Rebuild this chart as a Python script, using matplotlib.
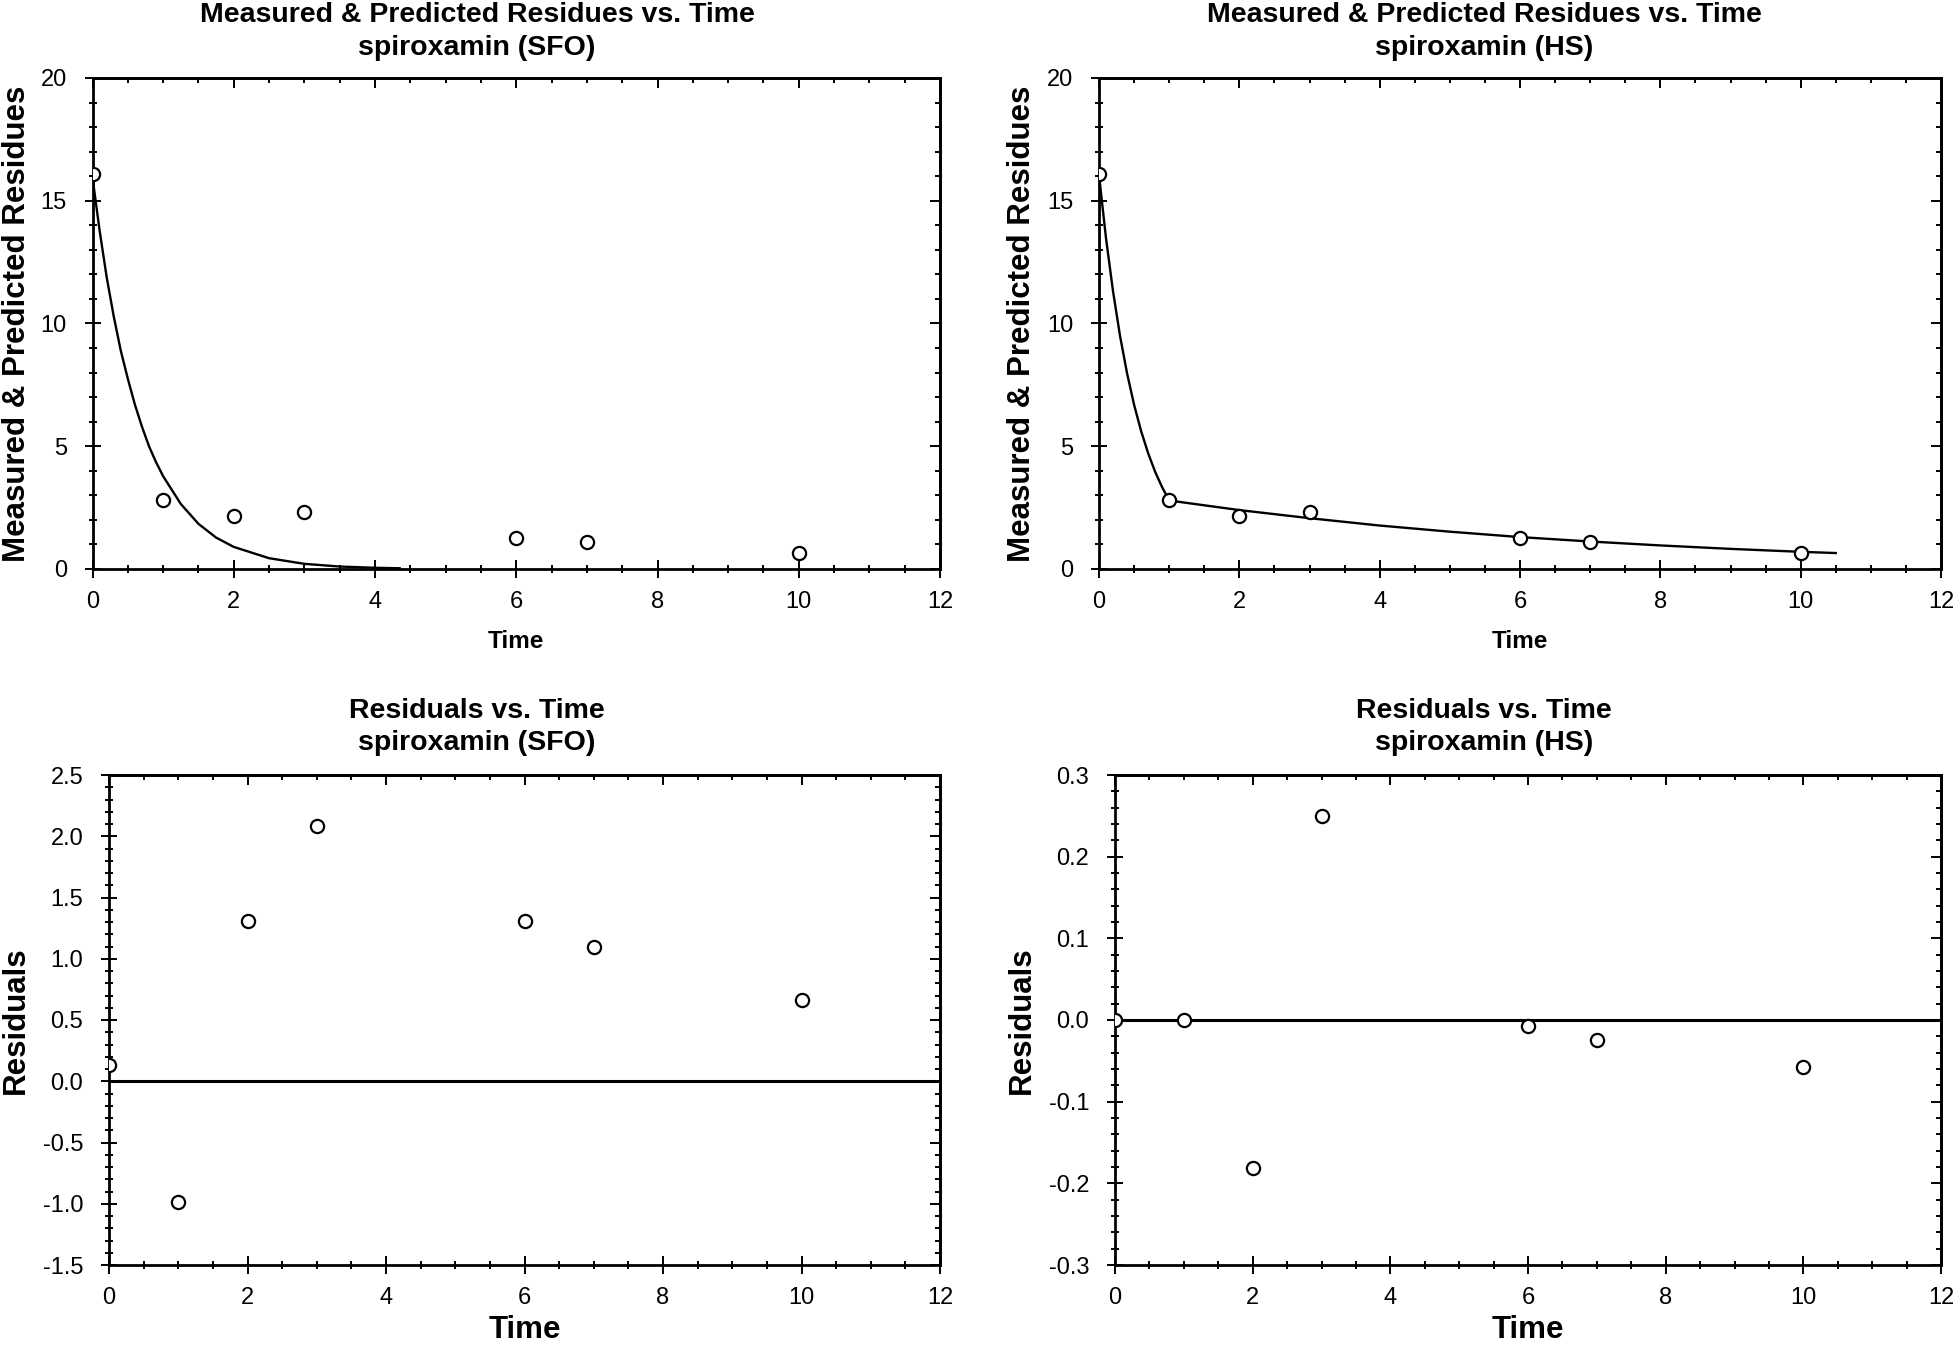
import matplotlib
matplotlib.use('Agg')
import matplotlib.pyplot as plt
from matplotlib.ticker import MultipleLocator, FormatStrFormatter

plt.rcParams['font.family'] = ['Liberation Sans', 'DejaVu Sans']
plt.rcParams['axes.unicode_minus'] = False

# measured residues
time = [0, 1, 2, 3, 6, 7, 10]
measured = [16.07, 2.80, 2.17, 2.32, 1.25, 1.10, 0.64]

# predicted curves
sfo_t = [0, 0.1, 0.2, 0.3, 0.4, 0.5, 0.6, 0.7, 0.8, 0.9, 1.0, 1.25, 1.5, 1.75, 2.0, 2.5, 3.0, 3.5, 4.0, 4.35]
sfo_fit = [15.95, 13.8, 11.9, 10.3, 8.9, 7.75, 6.7, 5.8, 5.0, 4.35, 3.78, 2.65, 1.84, 1.28, 0.9, 0.44, 0.21, 0.1, 0.05, 0.03]
hs_t = [0, 0.1, 0.2, 0.3, 0.4, 0.5, 0.6, 0.7, 0.8, 0.9, 1.0, 2, 3, 4, 5, 6, 7, 8, 9, 10, 10.5]
hs_fit = [16.05, 13.47, 11.31, 9.49, 7.97, 6.69, 5.62, 4.72, 3.96, 3.33, 2.79, 2.4, 2.07, 1.77, 1.52, 1.3, 1.12, 0.96, 0.82, 0.7, 0.65]

# residuals
sfo_res = [0.13, -0.985, 1.305, 2.08, 1.305, 1.10, 0.66]
hs_res = [0.0, 0.0, -0.181, 0.25, -0.007, -0.0245, -0.058]

W, H = 1960, 1348
fig = plt.figure(figsize=(W / 100, H / 100), dpi=100)


def box(l, r, t, b):
    return [l / W, 1 - b / H, (r - l) / W, (b - t) / H]


def style(ax, ymaj, ymin, fmt):
    ax.set_xlim(0, 12)
    ax.xaxis.set_major_locator(MultipleLocator(2))
    ax.xaxis.set_minor_locator(MultipleLocator(0.5))
    ax.yaxis.set_major_locator(MultipleLocator(ymaj))
    ax.yaxis.set_minor_locator(MultipleLocator(ymin))
    ax.yaxis.set_major_formatter(FormatStrFormatter(fmt))
    for s in ax.spines.values():
        s.set_linewidth(2)
    ax.tick_params(which='both', direction='inout', width=1.4, top=False, right=False, labelsize=17)
    ax.tick_params(axis='x', which='major', length=13, pad=9)
    ax.tick_params(axis='x', which='minor', length=6)
    ax.tick_params(axis='y', which='major', length=11, pad=13)
    ax.tick_params(axis='y', which='minor', length=6)
    # inward ticks on top and right
    top = ax.secondary_xaxis('top')
    top.xaxis.set_major_locator(MultipleLocator(2))
    top.xaxis.set_minor_locator(MultipleLocator(0.5))
    top.tick_params(which='both', direction='in', width=1.4, labeltop=False)
    top.tick_params(which='major', length=7)
    top.tick_params(which='minor', length=3.5)
    top.spines['top'].set_linewidth(2)
    right = ax.secondary_yaxis('right')
    right.yaxis.set_major_locator(MultipleLocator(ymaj))
    right.yaxis.set_minor_locator(MultipleLocator(ymin))
    right.tick_params(which='both', direction='in', width=1.4, labelright=False)
    right.tick_params(which='major', length=7)
    right.tick_params(which='minor', length=3.5)
    right.spines['right'].set_linewidth(2)


def titles(x, y1, y2, line1, line2):
    fig.text(x / W, 1 - y1 / H, line1, ha='center', va='baseline', fontsize=20.5, fontweight='bold')
    fig.text(x / W, 1 - y2 / H, line2, ha='center', va='baseline', fontsize=20.5, fontweight='bold')


pt = dict(ls='none', marker='o', ms=9.5, mfc='white', mec='black', mew=1.6, zorder=3)

# top row: measured & predicted
panels_top = [
    (box(92.5, 940, 78, 569), sfo_t, sfo_fit, 'spiroxamin (SFO)', 477, 17),
    (box(1099, 1941, 78, 569), hs_t, hs_fit, 'spiroxamin (HS)', 1484, 1022),
]
for pos, ft, fv, name, tx, lx in panels_top:
    ax = fig.add_axes(pos)
    ax.plot(ft, fv, color='black', lw=1.7, zorder=2)
    ax.plot(time, measured, **pt)
    ax.set_ylim(0, 20)
    style(ax, 5, 1, '%d')
    titles(tx, 22, 55, 'Measured & Predicted Residues vs. Time', name)
    fig.text(lx / W, 1 - 323.5 / H, 'Measured & Predicted Residues', rotation=90,
             ha='center', va='center', fontsize=22.5, fontweight='bold')
    cx = (pos[0] + pos[2] / 2)
    fig.text(cx, 1 - 648 / H, 'Time', ha='center', va='baseline', fontsize=17.5, fontweight='bold')

# bottom row: residuals
panels_bot = [
    (box(109, 940, 775, 1265), sfo_res, (-1.5, 2.5), 0.5, 0.1, 'spiroxamin (SFO)', 477, 16),
    (box(1115, 1941, 775, 1265), hs_res, (-0.3, 0.3), 0.1, 0.02, 'spiroxamin (HS)', 1484, 1022),
]
for pos, res, ylim, ymaj, ymin, name, tx, lx in panels_bot:
    ax = fig.add_axes(pos)
    ax.axhline(0, color='black', lw=2.2, zorder=2)
    ax.plot(time, res, **pt)
    ax.set_ylim(*ylim)
    style(ax, ymaj, ymin, '%.1f')
    titles(tx, 717.5, 750, 'Residuals vs. Time', name)
    fig.text(lx / W, 1 - 1020 / H, 'Residuals', rotation=90,
             ha='center', va='center', fontsize=22.5, fontweight='bold')
    cx = (pos[0] + pos[2] / 2)
    fig.text(cx, 1 - 1338 / H, 'Time', ha='center', va='baseline', fontsize=22.5, fontweight='bold')

fig.savefig('out.png', dpi=100, facecolor='white')
print('Saved: out.png')
